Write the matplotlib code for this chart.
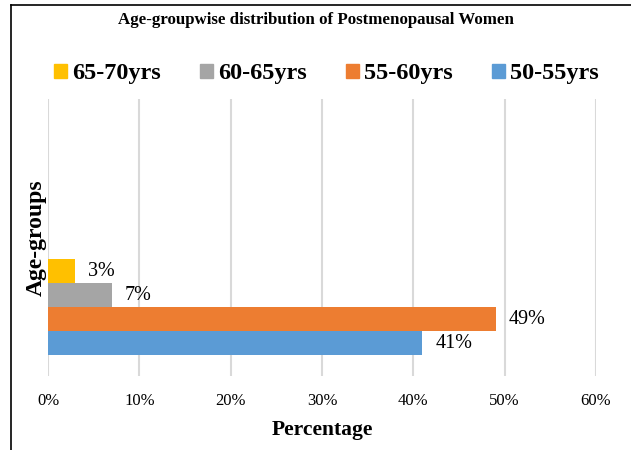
import matplotlib
matplotlib.use("Agg")
import matplotlib.pyplot as plt
from matplotlib.patches import Patch
from matplotlib.lines import Line2D

plt.rcParams['font.family'] = ['Liberation Serif', 'DejaVu Serif']

# data
groups = ['50-55yrs', '55-60yrs', '60-65yrs', '65-70yrs']
values = [41, 49, 7, 3]
colors = ['#5B9BD5', '#ED7D31', '#A5A5A5', '#FFC000']
xticks = [0, 10, 20, 30, 40, 50, 60]

fig = plt.figure(figsize=(6.31, 4.5), dpi=100)
ax = fig.add_axes([48/631, 1-376/450, 548/631, 277/450])

# bar layout (one category, bars side by side)
bar_h = 24/277
base = 0.119
for i, (g, v, c) in enumerate(zip(groups, values, colors)):
    y = base + i*bar_h
    ax.barh(y, v, height=bar_h, color=c, zorder=3, label=g)
    ax.text(v + 1.4, y, f'{v}%', va='center', ha='left', fontsize=14.5, zorder=4)

ax.set_xlim(0, 60)
ax.set_ylim(0, 1)
ax.set_xticks(xticks)
ax.set_xticklabels([f'{t}%' for t in xticks], fontsize=12)
ax.set_yticks([])
ax.tick_params(axis='x', length=0, pad=12)
ax.grid(axis='x', color='#D9D9D9', linewidth=1.5, zorder=0)
for s in ax.spines.values():
    s.set_visible(False)

ax.set_xlabel('Percentage', fontsize=15.5, fontweight='bold', labelpad=8)
ax.set_ylabel('Age-groups', fontsize=17, fontweight='bold', labelpad=1)

fig.text(0.5, 1-20/450, 'Age-groupwise distribution of Postmenopausal Women',
         ha='center', va='center', fontsize=12.2, fontweight='bold')

handles = [Patch(color=c) for c in colors[::-1]]
fig.legend(handles, groups[::-1], loc='center', bbox_to_anchor=(0.517, 1-74/450),
           ncol=4, frameon=False, handlelength=0.55, handleheight=0.55,
           handletextpad=0.2, columnspacing=1.6,
           prop={'size': 17.5, 'weight': 'bold'})

# outer frame (left and top edges)
fig.add_artist(Line2D([11/631, 11/631], [0, 1-5/450], color='black', linewidth=1.2,
                      transform=fig.transFigure))
fig.add_artist(Line2D([11/631, 1], [1-5/450, 1-5/450], color='black', linewidth=1.2,
                      transform=fig.transFigure))

fig.savefig('out.png', dpi=100)
